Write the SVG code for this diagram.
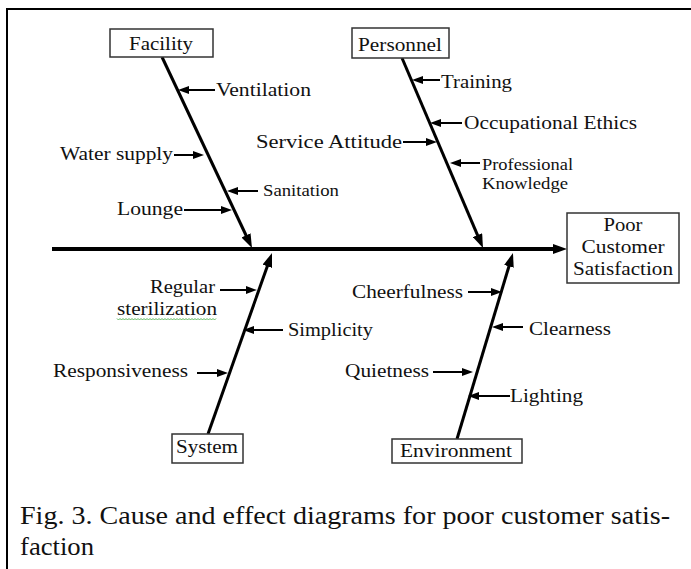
<svg xmlns="http://www.w3.org/2000/svg" width="691" height="569" viewBox="0 0 691 569">
<style>
.t{font-family:'Liberation Serif','Tinos','DejaVu Serif','Noto Serif',serif;font-size:19px;fill:#111}
.s{font-size:17px}
.xs{font-size:16px}
.box{fill:#fff;stroke:#333;stroke-width:1.5}
.bone{stroke:#000;stroke-width:3;fill:none}
.spine{stroke:#000;stroke-width:4;fill:none}
.cause{stroke:#000;stroke-width:2;fill:none}
.cap{font-family:'Liberation Serif','Tinos','DejaVu Serif','Noto Serif',serif;font-size:26px;fill:#111}
</style>
<defs>
<marker id="big" viewBox="0 0 14 10" markerWidth="14" markerHeight="10" markerUnits="userSpaceOnUse" refX="3" refY="5" orient="auto"><path d="M0,0 L14,5 L0,10 z" fill="#000"/></marker>
<marker id="sm" viewBox="0 0 11 8" markerWidth="11" markerHeight="8" markerUnits="userSpaceOnUse" refX="2" refY="4" orient="auto"><path d="M0,0 L11,4 L0,8 z" fill="#000"/></marker>
</defs>
<rect width="691" height="569" fill="#fff"/>
<path d="M7,569 L7,9 L691,9" fill="none" stroke="#000" stroke-width="2"/>

<g id="connectors">
<line class="spine" x1="52" y1="249" x2="556" y2="249" marker-end="url(#big)"/>
<line class="bone" x1="162" y1="57" x2="247.3" y2="238" marker-end="url(#big)"/>
<line class="bone" x1="402" y1="58" x2="478.7" y2="237.9" marker-end="url(#big)"/>
<line class="bone" x1="208" y1="434" x2="268.3" y2="263.4" marker-end="url(#big)"/>
<line class="bone" x1="457" y1="439" x2="509.8" y2="263.5" marker-end="url(#big)"/>
<line class="cause" x1="215" y1="90" x2="187" y2="90" marker-end="url(#sm)"/>
<line class="cause" x1="174" y1="155" x2="195" y2="155" marker-end="url(#sm)"/>
<line class="cause" x1="258" y1="191" x2="236" y2="191" marker-end="url(#sm)"/>
<line class="cause" x1="184" y1="210" x2="223" y2="210" marker-end="url(#sm)"/>
<line class="cause" x1="440" y1="80" x2="421" y2="80" marker-end="url(#sm)"/>
<line class="cause" x1="462" y1="123" x2="439" y2="123" marker-end="url(#sm)"/>
<line class="cause" x1="403" y1="142" x2="428" y2="142" marker-end="url(#sm)"/>
<line class="cause" x1="480" y1="163" x2="459" y2="163" marker-end="url(#sm)"/>
<line class="cause" x1="220" y1="290" x2="248" y2="290" marker-end="url(#sm)"/>
<line class="cause" x1="283" y1="330" x2="252" y2="330" marker-end="url(#sm)"/>
<line class="cause" x1="197" y1="373" x2="219" y2="373" marker-end="url(#sm)"/>
<line class="cause" x1="468" y1="292" x2="493" y2="292" marker-end="url(#sm)"/>
<line class="cause" x1="523" y1="327" x2="501" y2="327" marker-end="url(#sm)"/>
<line class="cause" x1="433" y1="372" x2="464" y2="372" marker-end="url(#sm)"/>
<line class="cause" x1="510" y1="396" x2="477" y2="396" marker-end="url(#sm)"/>
</g>

<g id="facility">
<rect class="box" x="110" y="29" width="103" height="28"/>
<text class="t" x="129" y="50" textLength="64" lengthAdjust="spacingAndGlyphs">Facility</text>
</g>
<g id="personnel">
<rect class="box" x="352" y="28" width="97" height="30"/>
<text class="t" x="358" y="51" textLength="84" lengthAdjust="spacingAndGlyphs">Personnel</text>
</g>
<g id="system">
<rect class="box" x="172" y="434" width="71" height="29"/>
<text class="t" x="176" y="453" textLength="62" lengthAdjust="spacingAndGlyphs">System</text>
</g>
<g id="environment">
<rect class="box" x="392" y="439" width="130" height="24"/>
<text class="t" x="400" y="457" textLength="112" lengthAdjust="spacingAndGlyphs">Environment</text>
</g>
<g id="effect">
<rect class="box" x="567" y="213" width="112" height="70"/>
<text class="t" x="623" y="231" text-anchor="middle" textLength="39" lengthAdjust="spacingAndGlyphs">Poor</text>
<text class="t" x="623" y="253" text-anchor="middle" textLength="83" lengthAdjust="spacingAndGlyphs">Customer</text>
<text class="t" x="623" y="275" text-anchor="middle" textLength="100" lengthAdjust="spacingAndGlyphs">Satisfaction</text>
</g>

<g id="ventilation"><text class="t" x="216" y="96" textLength="95" lengthAdjust="spacingAndGlyphs">Ventilation</text></g>
<g id="water-supply"><text class="t" x="60" y="160" textLength="113" lengthAdjust="spacingAndGlyphs">Water supply</text></g>
<g id="sanitation"><text class="t s" x="263" y="196" textLength="76" lengthAdjust="spacingAndGlyphs">Sanitation</text></g>
<g id="lounge"><text class="t" x="117" y="215" textLength="66" lengthAdjust="spacingAndGlyphs">Lounge</text></g>
<g id="training"><text class="t" x="441" y="88" textLength="71" lengthAdjust="spacingAndGlyphs">Training</text></g>
<g id="occupational-ethics"><text class="t" x="464" y="129" textLength="173" lengthAdjust="spacingAndGlyphs">Occupational Ethics</text></g>
<g id="service-attitude"><text class="t" x="256" y="148" textLength="146" lengthAdjust="spacingAndGlyphs">Service Attitude</text></g>
<g id="professional-knowledge">
<text class="t xs" x="482" y="170" textLength="91" lengthAdjust="spacingAndGlyphs">Professional</text>
<text class="t xs" x="482" y="189" textLength="86" lengthAdjust="spacingAndGlyphs">Knowledge</text>
</g>
<g id="regular-sterilization">
<text class="t" x="150" y="293" textLength="65" lengthAdjust="spacingAndGlyphs">Regular</text>
<text class="t" x="117" y="315" textLength="100" lengthAdjust="spacingAndGlyphs">sterilization</text>
<path d="M117,318.5 l1.5,1.5 l1.5,-1.5 l1.5,1.5 l1.5,-1.5 l1.5,1.5 l1.5,-1.5 l1.5,1.5 l1.5,-1.5 l1.5,1.5 l1.5,-1.5 l1.5,1.5 l1.5,-1.5 l1.5,1.5 l1.5,-1.5 l1.5,1.5 l1.5,-1.5 l1.5,1.5 l1.5,-1.5 l1.5,1.5 l1.5,-1.5 l1.5,1.5 l1.5,-1.5 l1.5,1.5 l1.5,-1.5 l1.5,1.5 l1.5,-1.5 l1.5,1.5 l1.5,-1.5 l1.5,1.5 l1.5,-1.5 l1.5,1.5 l1.5,-1.5 l1.5,1.5 l1.5,-1.5 l1.5,1.5 l1.5,-1.5 l1.5,1.5 l1.5,-1.5 l1.5,1.5 l1.5,-1.5 l1.5,1.5 l1.5,-1.5 l1.5,1.5 l1.5,-1.5 l1.5,1.5 l1.5,-1.5 l1.5,1.5 l1.5,-1.5 l1.5,1.5 l1.5,-1.5 l1.5,1.5 l1.5,-1.5 l1.5,1.5 l1.5,-1.5 l1.5,1.5 l1.5,-1.5 l1.5,1.5 l1.5,-1.5 l1.5,1.5 l1.5,-1.5 l1.5,1.5 l1.5,-1.5 l1.5,1.5 l1.5,-1.5 l1.5,1.5 l1.5,-1.5" fill="none" stroke="#5cb85c" stroke-width="1"/>
</g>
<g id="simplicity"><text class="t" x="288" y="336" textLength="85" lengthAdjust="spacingAndGlyphs">Simplicity</text></g>
<g id="responsiveness"><text class="t" x="53" y="377" textLength="135" lengthAdjust="spacingAndGlyphs">Responsiveness</text></g>
<g id="cheerfulness"><text class="t" x="352" y="298" textLength="111" lengthAdjust="spacingAndGlyphs">Cheerfulness</text></g>
<g id="clearness"><text class="t" x="529" y="335" textLength="82" lengthAdjust="spacingAndGlyphs">Clearness</text></g>
<g id="quietness"><text class="t" x="345" y="377" textLength="84" lengthAdjust="spacingAndGlyphs">Quietness</text></g>
<g id="lighting"><text class="t" x="510" y="402" textLength="73" lengthAdjust="spacingAndGlyphs">Lighting</text></g>

<g id="caption">
<text class="cap" x="20" y="524" textLength="650" lengthAdjust="spacingAndGlyphs">Fig. 3. Cause and effect diagrams for poor customer satis-</text>
<text class="cap" x="20" y="555" textLength="74" lengthAdjust="spacingAndGlyphs">faction</text>
</g>
</svg>
